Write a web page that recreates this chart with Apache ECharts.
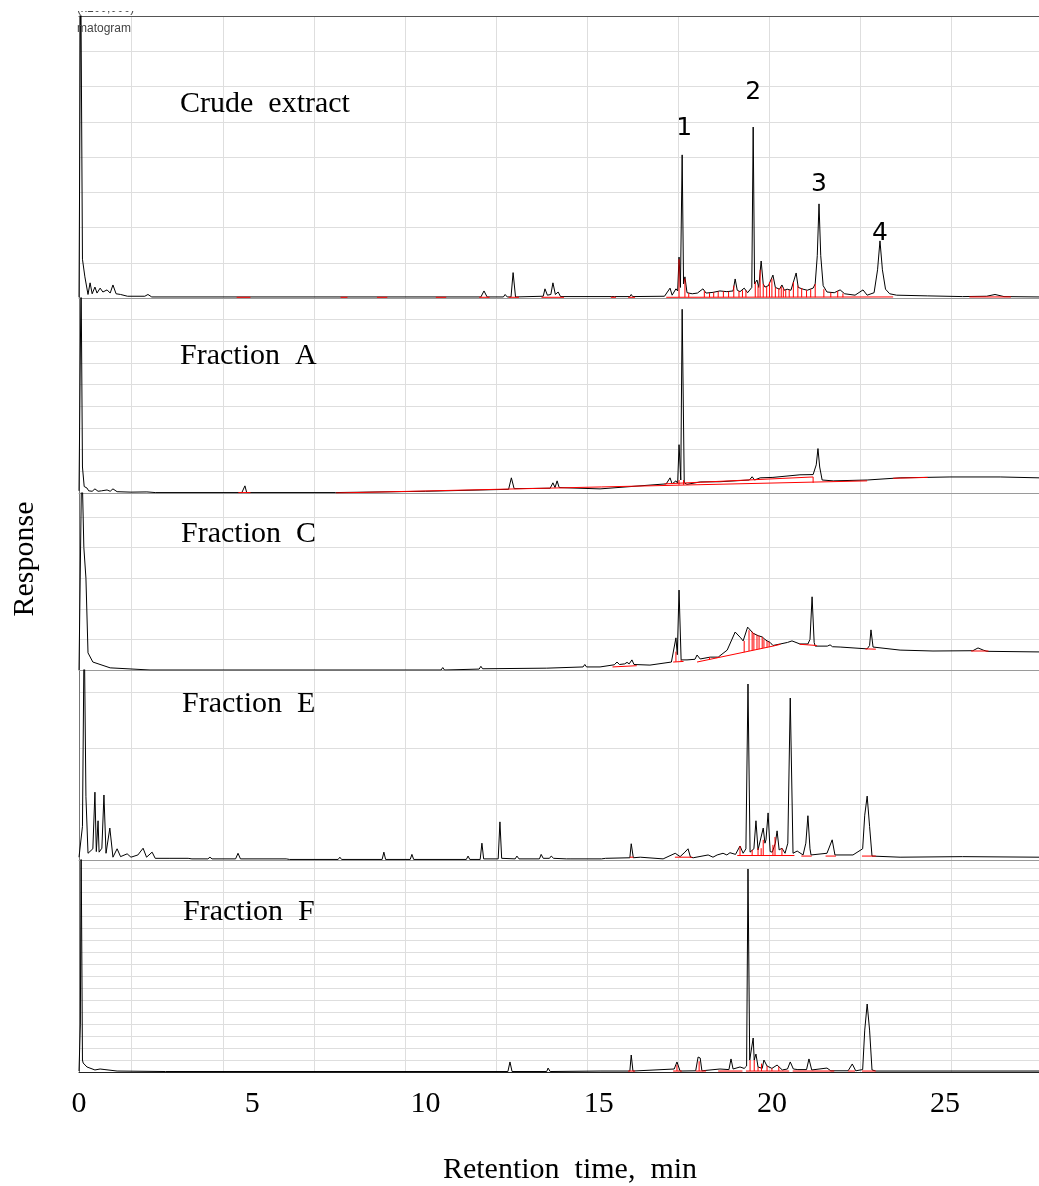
<!DOCTYPE html>
<html>
<head>
<meta charset="utf-8">
<script src="https://cdn.jsdelivr.net/npm/echarts@6/dist/echarts.min.js"></script>
<style>
  html, body { margin: 0; padding: 0; background: #fff; }
  #chart { width: 1039px; height: 1186px; }
</style>
</head>
<body>
<div id="chart"></div>
<script>
// retention time axis (min)
const timeTicks = [0, 5, 10, 15, 20, 25]
const gridTimes = [1.52, 4.15, 6.78, 9.41, 12.04, 14.67, 17.30, 19.93, 22.56, 25.19]
const panelNames = ['Crude  extract', 'Fraction  A', 'Fraction  C', 'Fraction  E', 'Fraction  F']

// numbered peaks in the crude extract
const peakLabels = ['1', '2', '3', '4']
const peakTimes = [17.41, 19.46, 21.36, 23.12]
const peakHeights = [4.06, 4.85, 2.67, 1.62]

// traces: [time, response]
const crude = [
  [0, 0.02], [0.05, 9.5], [0.1, 1.1], [0.17, 0.6], [0.26, 0.1], [0.32, 0.43], [0.38, 0.12], [0.46, 0.31],
  [0.52, 0.14], [0.61, 0.28], [0.69, 0.17], [0.81, 0.23], [0.9, 0.14], [0.98, 0.37], [1.07, 0.12], [1.2, 0.1],
  [1.4, 0.05], [1.9, 0.05], [1.99, 0.1], [2.1, 0.03], [11.6, 0.03], [11.69, 0.2], [11.78, 0.03], [12.25, 0.03],
  [12.3, 0.1], [12.36, 0.03], [12.47, 0.03], [12.53, 0.72], [12.6, 0.03], [13.4, 0.05], [13.45, 0.26], [13.52, 0.08],
  [13.62, 0.1], [13.68, 0.43], [13.75, 0.1], [13.83, 0.17], [13.9, 0.04], [15.38, 0.04], [15.42, 0.08], [15.46, 0.04],
  [15.9, 0.04], [15.94, 0.1], [15.98, 0.04], [16.9, 0.05], [17.06, 0.28], [17.12, 0.08], [17.23, 0.26], [17.28, 0.2],
  [17.32, 1.16], [17.36, 0.3], [17.41, 4.06], [17.45, 0.4], [17.49, 0.6], [17.55, 0.15], [17.7, 0.12], [17.85, 0.14],
  [18.01, 0.26], [18.1, 0.14], [18.3, 0.16], [18.5, 0.2], [18.7, 0.18], [18.88, 0.2], [18.94, 0.54], [19.0, 0.22],
  [19.08, 0.18], [19.2, 0.28], [19.3, 0.15], [19.42, 0.3], [19.46, 4.85], [19.5, 0.4], [19.57, 0.51], [19.62, 0.3],
  [19.69, 1.05], [19.75, 0.4], [19.8, 0.31], [19.9, 0.35], [20.03, 0.65], [20.1, 0.3], [20.15, 0.31], [20.22, 0.25],
  [20.29, 0.37], [20.36, 0.22], [20.44, 0.25], [20.55, 0.22], [20.7, 0.71], [20.76, 0.3], [20.81, 0.31], [20.9, 0.25],
  [21.02, 0.22], [21.19, 0.28], [21.25, 0.4], [21.31, 1.2], [21.36, 2.67], [21.41, 1.2], [21.48, 0.35], [21.59, 0.17],
  [21.8, 0.15], [21.97, 0.23], [22.1, 0.12], [22.4, 0.08], [22.63, 0.23], [22.75, 0.08], [22.95, 0.15], [23.05, 0.8],
  [23.12, 1.62], [23.19, 0.8], [23.28, 0.25], [23.4, 0.12], [23.6, 0.08], [24.5, 0.06], [25.5, 0.04], [26.2, 0.05],
  [26.44, 0.1], [26.7, 0.04], [27.71, 0.03]
]
const fracA = [
  [0, 0.1], [0.06, 10], [0.1, 1.2], [0.15, 0.3], [0.23, 0.23], [0.28, 0.1], [0.32, 0.14], [0.38, 0.08],
  [0.46, 0.19], [0.55, 0.08], [0.65, 0.1], [0.81, 0.14], [0.9, 0.08], [0.98, 0.19], [1.1, 0.06], [1.5, 0.04],
  [1.96, 0.05], [2.2, 0.02], [4.7, 0.02], [4.79, 0.33], [4.84, 0.02], [7.4, 0.02], [10, 0.08], [12.4, 0.17],
  [12.48, 0.7], [12.56, 0.2], [13.6, 0.22], [13.68, 0.47], [13.74, 0.25], [13.8, 0.56], [13.86, 0.25], [15.04, 0.19],
  [16.77, 0.4], [16.95, 0.42], [17.06, 0.7], [17.12, 0.42], [17.23, 0.56], [17.28, 0.45], [17.32, 2.23], [17.37, 0.6],
  [17.41, 8.48], [17.47, 0.47], [17.55, 0.4], [17.93, 0.51], [18.5, 0.52], [19.35, 0.6], [19.43, 0.75], [19.5, 0.6],
  [19.66, 0.7], [20.03, 0.72], [20.81, 0.84], [21.19, 0.85], [21.28, 1.3], [21.33, 2.05], [21.38, 1.2], [21.45, 0.6],
  [21.77, 0.56], [22.75, 0.6], [23.7, 0.7], [25.14, 0.74], [26.59, 0.74], [27.71, 0.7]
]
const fracC = [
  [0, 0], [0.08, 7], [0.14, 4], [0.2, 3.0], [0.26, 0.56], [0.4, 0.26], [0.9, 0.07], [2.05, 0], [10.45, 0],
  [10.5, 0.08], [10.55, 0], [11.55, 0.03], [11.6, 0.12], [11.65, 0.04], [13.5, 0.06], [14.55, 0.1], [14.6, 0.18],
  [14.65, 0.1], [15.04, 0.1], [15.45, 0.17], [15.53, 0.26], [15.6, 0.18], [15.75, 0.2], [15.82, 0.25], [15.88, 0.2],
  [15.96, 0.33], [16.02, 0.18], [16.48, 0.16], [17.1, 0.26], [17.23, 1.05], [17.27, 0.5], [17.32, 2.61], [17.38, 0.33],
  [17.55, 0.33], [17.78, 0.35], [17.84, 0.49], [17.93, 0.36], [18.22, 0.42], [18.45, 0.42], [18.71, 0.65], [18.94, 1.24],
  [19.1, 1.05], [19.17, 0.95], [19.3, 1.4], [19.46, 1.2], [19.6, 1.12], [19.72, 1.08], [19.8, 1.0], [19.86, 0.95],
  [19.95, 0.9], [20.03, 0.8], [20.24, 0.85], [20.45, 0.9], [20.58, 0.95], [20.81, 0.85], [21.04, 0.85], [21.1, 1.0],
  [21.16, 2.39], [21.22, 0.9], [21.25, 0.78], [21.6, 0.78], [21.68, 0.82], [21.75, 0.76], [21.97, 0.75], [22.75, 0.69],
  [22.82, 0.8], [22.86, 1.31], [22.92, 0.75], [22.95, 0.69], [23.7, 0.65], [24.65, 0.62], [25.8, 0.63], [25.95, 0.72],
  [26.1, 0.65], [26.21, 0.61], [27.71, 0.59]
]
const fracE = [
  [0, 0.05], [0.1, 0.6], [0.15, 4.2], [0.2, 1.13], [0.26, 0.12], [0.4, 0.2], [0.46, 1.21], [0.5, 0.15], [0.55, 0.7],
  [0.58, 0.14], [0.66, 0.21], [0.72, 1.16], [0.78, 0.12], [0.89, 0.57], [0.98, 0.05], [1.1, 0.2], [1.2, 0.06],
  [1.39, 0.11], [1.5, 0.05], [1.7, 0.09], [1.85, 0.21], [1.95, 0.05], [2.11, 0.14], [2.2, 0.03], [2.6, 0.03],
  [3.15, 0.03], [3.2, 0.06], [3.26, 0.02], [3.72, 0.02], [3.78, 0.05], [3.84, 0.02], [4.52, 0.02], [4.59, 0.12],
  [4.66, 0.02], [5.98, 0.02], [6.03, 0.04], [6.08, 0.01], [7.48, 0.01], [7.53, 0.05], [7.58, 0.01], [8.75, 0.01],
  [8.8, 0.14], [8.85, 0.01], [9.56, 0.01], [9.61, 0.1], [9.66, 0.01], [11.18, 0.01], [11.23, 0.07], [11.28, 0.01],
  [11.58, 0.01], [11.63, 0.3], [11.68, 0.02], [12.1, 0.02], [12.15, 0.68], [12.2, 0.03], [12.59, 0.02], [12.64, 0.07],
  [12.7, 0.02], [13.29, 0.02], [13.34, 0.1], [13.4, 0.03], [13.58, 0.03], [13.63, 0.07], [13.7, 0.03], [14.07, 0.02],
  [14.12, 0.05], [14.2, 0.02], [15.08, 0.02], [15.13, 0.05], [15.2, 0.03], [15.9, 0.04], [15.94, 0.29], [16.0, 0.04],
  [16.2, 0.05], [16.86, 0.02], [17.21, 0.12], [17.26, 0.14], [17.35, 0.06], [17.49, 0.14], [17.58, 0.2], [17.65, 0.05],
  [17.73, 0.04], [18.16, 0.09], [18.3, 0.05], [18.42, 0.09], [18.59, 0.12], [18.7, 0.09], [18.79, 0.13], [18.95, 0.1],
  [19.08, 0.25], [19.17, 0.12], [19.25, 0.2], [19.31, 3.14], [19.37, 0.14], [19.48, 0.2], [19.54, 0.7], [19.6, 0.18],
  [19.63, 0.18], [19.75, 0.57], [19.8, 0.3], [19.83, 0.36], [19.89, 0.84], [19.95, 0.15], [20.01, 0.14], [20.1, 0.3],
  [20.15, 0.52], [20.21, 0.18], [20.29, 0.21], [20.38, 0.12], [20.46, 0.3], [20.53, 2.89], [20.61, 0.12], [20.73, 0.16],
  [20.9, 0.09], [20.98, 0.3], [21.04, 0.79], [21.1, 0.2], [21.13, 0.09], [21.59, 0.12], [21.74, 0.36], [21.82, 0.09],
  [22.34, 0.09], [22.62, 0.2], [22.68, 0.8], [22.75, 1.14], [22.82, 0.6], [22.89, 0.07], [23.7, 0.05], [25.5, 0.06],
  [27.71, 0.05]
]
const fracF = [
  [0, 0.08], [0.04, 4], [0.06, 20], [0.1, 1.0], [0.12, 0.75], [0.23, 0.42], [0.46, 0.17], [0.61, 0.25], [0.75, 0.2],
  [1.1, 0.08], [2.5, 0.04], [12.38, 0.04], [12.44, 0.84], [12.5, 0.04], [13.5, 0.04], [13.54, 0.33], [13.6, 0.04],
  [15.04, 0.08], [15.9, 0.08], [15.94, 1.42], [15.99, 0.08], [17.18, 0.25], [17.26, 0.84], [17.35, 0.08], [17.8, 0.1],
  [17.87, 1.25], [17.93, 1.17], [17.98, 0.1], [18.5, 0.25], [18.76, 0.2], [18.82, 1.09], [18.88, 0.25], [19.08, 0.42],
  [19.2, 0.3], [19.27, 0.5], [19.31, 16.96], [19.36, 1.0], [19.41, 1.0], [19.46, 2.84], [19.49, 1.0], [19.54, 1.5],
  [19.6, 0.42], [19.72, 0.3], [19.77, 1.0], [19.86, 0.5], [20.0, 0.3], [20.15, 0.58], [20.3, 0.17], [20.45, 0.25],
  [20.53, 0.84], [20.62, 0.25], [20.75, 0.2], [21.0, 0.2], [21.07, 1.09], [21.15, 0.17], [21.59, 0.33], [21.7, 0.1],
  [22.2, 0.1], [22.32, 0.67], [22.42, 0.1], [22.62, 0.2], [22.68, 3.5], [22.75, 5.68], [22.82, 3.5], [22.89, 0.17],
  [23.0, 0.08], [27.71, 0.08]
]

// integration marks (red): baselines [t1, v1, t2, v2] and drop lines [t, from, to]
const crudeSegs = [[4.55, 0.02, 4.95, 0.02], [7.55, 0.02, 7.75, 0.02], [8.6, 0.02, 8.9, 0.02], [10.3, 0.02, 10.6, 0.02],
  [11.55, 0.02, 11.85, 0.02], [12.4, 0.02, 12.7, 0.02], [13.35, 0.02, 14.0, 0.02], [15.35, 0.02, 15.5, 0.02],
  [15.85, 0.02, 16.05, 0.02], [16.95, 0.02, 23.5, 0.03], [25.7, 0.03, 26.9, 0.03]]
const crudeDrops = [[17.32, 0.02, 1.1], [17.49, 0.02, 0.55], [17.6, 0.02, 0.14], [18.05, 0.02, 0.2], [18.2, 0.02, 0.14],
  [18.32, 0.02, 0.16], [18.45, 0.02, 0.18], [18.6, 0.02, 0.19], [18.75, 0.02, 0.18], [18.9, 0.02, 0.35],
  [19.05, 0.02, 0.2], [19.15, 0.02, 0.22], [19.25, 0.02, 0.22], [19.52, 0.02, 0.45], [19.6, 0.02, 0.35],
  [19.66, 0.02, 0.8], [19.75, 0.02, 0.4], [19.85, 0.02, 0.33], [19.93, 0.02, 0.45], [20.0, 0.02, 0.55],
  [20.1, 0.02, 0.3], [20.2, 0.02, 0.27], [20.27, 0.02, 0.33], [20.33, 0.02, 0.28], [20.4, 0.02, 0.23],
  [20.5, 0.02, 0.23], [20.62, 0.02, 0.45], [20.75, 0.02, 0.35], [20.86, 0.02, 0.28], [21.0, 0.02, 0.22],
  [21.12, 0.02, 0.25], [21.25, 0.02, 0.4], [21.5, 0.02, 0.25], [21.7, 0.02, 0.15], [21.9, 0.02, 0.2], [22.05, 0.02, 0.13]]
const aSegs = [[4.6, 0.02, 4.95, 0.02], [7.42, 0, 22.75, 0.56], [16.9, 0.42, 21.19, 0.74], [23.5, 0.68, 24.5, 0.72]]
const aDrops = [[17.32, 0.38, 0.6], [17.45, 0.38, 0.6], [21.19, 0.47, 0.74]]
const cSegs = [[15.4, 0.1, 16.1, 0.14], [17.15, 0.26, 17.45, 0.28], [17.84, 0.26, 20.03, 0.78], [20.03, 0.78, 20.25, 0.84],
  [20.8, 0.84, 21.3, 0.8], [22.7, 0.69, 23.0, 0.68], [25.75, 0.62, 26.25, 0.62]]
const cDrops = [[17.23, 0.27, 0.6], [17.38, 0.28, 0.33], [18.2, 0.35, 0.42], [18.4, 0.39, 0.42], [19.2, 0.58, 0.95],
  [19.34, 0.62, 1.3], [19.43, 0.64, 1.25], [19.48, 0.65, 1.2], [19.57, 0.67, 1.15], [19.63, 0.68, 1.12],
  [19.72, 0.71, 1.08], [19.77, 0.72, 1.0], [19.86, 0.74, 0.95], [19.92, 0.75, 0.92]]
const eSegs = [[15.9, 0.05, 16.0, 0.05], [17.2, 0.05, 17.7, 0.05], [19.0, 0.08, 20.65, 0.08], [20.85, 0.07, 21.15, 0.07],
  [21.55, 0.07, 21.85, 0.07], [22.6, 0.07, 23.0, 0.07]]
const eDrops = [[19.08, 0.08, 0.25], [19.43, 0.08, 0.18], [19.6, 0.08, 0.21], [19.69, 0.08, 0.21], [19.75, 0.08, 0.36],
  [20.03, 0.08, 0.27], [20.09, 0.08, 0.41], [20.29, 0.08, 0.21]]
const fSegs = [[15.85, 0.08, 16.05, 0.08], [17.15, 0.08, 17.4, 0.08], [17.8, 0.08, 18.1, 0.08], [18.45, 0.08, 19.15, 0.08],
  [19.25, 0.08, 20.5, 0.08], [20.6, 0.08, 21.8, 0.08], [22.2, 0.08, 22.4, 0.08], [22.6, 0.08, 23.0, 0.08]]
const fDrops = [[17.26, 0.08, 0.6], [17.9, 0.08, 0.9], [19.37, 0.08, 1.0], [19.49, 0.08, 1.0], [19.6, 0.08, 0.42],
  [19.7, 0.08, 0.7], [19.86, 0.08, 0.5], [20.0, 0.08, 0.3], [20.2, 0.08, 0.45]]

const serif = '"Liberation Serif", "Times New Roman", serif'
const gridColor = '#dedede'

// panel layout, top to bottom
const panels = [
  {top: 16, height: 282, max: 8, trace: crude, segs: crudeSegs, drops: crudeDrops, label: [180, 104]},
  {top: 298, height: 195, max: 9, trace: fracA, segs: aSegs, drops: aDrops, label: [180, 356]},
  {top: 493, height: 177, max: 5.78, trace: fracC, segs: cSegs, drops: cDrops, label: [181, 534]},
  {top: 670, height: 190, max: 3.39, trace: fracE, segs: eSegs, drops: eDrops, label: [182, 704]},
  {top: 860, height: 212, max: 17.71, trace: fracF, segs: fSegs, drops: fDrops, label: [183, 912]}
]

function redData (segs, drops) {
  const out = []
  segs.forEach(s => { out.push([s[0], s[1]], [s[2], s[3]], [s[2], '-']) })
  drops.forEach(d => { out.push([d[0], d[1]], [d[0], d[2]], [d[0], '-']) })
  return out
}

const last = panels.length - 1
const grid = panels.map(p => ({left: 79, right: 0, top: p.top, height: p.height}))

const xAxis = panels.map((p, i) => ({
  type: 'value',
  gridIndex: i,
  min: 0,
  max: 27.71,
  axisLine: {show: true, lineStyle: {color: i === last ? '#222' : '#9a9a9a', width: 1}},
  axisTick: {show: false, customValues: gridTimes},
  splitLine: {show: true, lineStyle: {color: gridColor, width: 1}},
  axisLabel: i === last
    ? {show: true, customValues: timeTicks, fontFamily: serif, fontSize: 30, color: '#000', margin: 17}
    : {show: false}
}))
// top frame of the first panel
xAxis.push({
  type: 'value', gridIndex: 0, position: 'top', min: 0, max: 27.71,
  axisLine: {show: true, lineStyle: {color: '#555', width: 1}},
  axisTick: {show: false}, axisLabel: {show: false}, splitLine: {show: false}
})

const yAxis = panels.map((p, i) => ({
  type: 'value',
  gridIndex: i,
  min: 0,
  max: p.max,
  interval: 1,
  axisLine: {show: true, lineStyle: {color: '#777', width: 1}},
  axisTick: {show: false},
  axisLabel: {show: false},
  splitLine: {show: true, lineStyle: {color: gridColor, width: 1}}
}))

const series = []
panels.forEach((p, i) => {
  const trace = {
    type: 'line',
    xAxisIndex: i,
    yAxisIndex: i,
    data: p.trace,
    showSymbol: false,
    symbol: 'none',
    lineStyle: {color: '#000', width: 1},
    z: 3
  }
  if (i === 0) {
    trace.markPoint = {
      symbol: 'circle',
      symbolSize: 0,
      label: {show: true, position: 'top', formatter: '{b}', fontFamily: '"DejaVu Sans", sans-serif', fontSize: 25, color: '#000'},
      data: peakLabels.map((n, k) => ({
        name: n,
        coord: [peakTimes[k], peakHeights[k]],
        label: {distance: [14, 22, 7, -5][k], offset: [[2, 0], [0, 0], [0, 0], [0, 0]][k]}
      }))
    }
  }
  series.push(trace)
  series.push({
    type: 'line',
    xAxisIndex: i,
    yAxisIndex: i,
    data: redData(p.segs, p.drops),
    showSymbol: false,
    symbol: 'none',
    connectNulls: false,
    lineStyle: {color: '#ff0000', width: 1},
    z: 4
  })
})

const graphic = panels.map((p, i) => ({
  type: 'text',
  left: p.label[0],
  top: p.label[1] - 15,
  z: 100,
  style: {text: panelNames[i], font: '30px ' + serif, fill: '#000'}
}))
graphic.push(
  {type: 'text', x: 25, y: 559, rotation: Math.PI / 2, z: 100,
    style: {text: 'Response', font: '30px ' + serif, fill: '#000', align: 'center', verticalAlign: 'middle'}},
  {type: 'text', x: 570, y: 1170, z: 100,
    style: {text: 'Retention  time,  min', font: '30px ' + serif, fill: '#000', align: 'center', verticalAlign: 'middle'}},
  {type: 'text', x: 77, y: 3, z: 100, style: {text: '(x100,000)', font: '12px "Liberation Sans", sans-serif', fill: '#444'}},
  {type: 'rect', shape: {x: 70, y: 0, width: 100, height: 11}, style: {fill: '#fff'}, z: 101},
  {type: 'text', x: 77, y: 23, z: 102, style: {text: 'matogram', font: '12px "Liberation Sans", sans-serif', fill: '#444'}}
)

const chart = echarts.init(document.getElementById('chart'))
chart.setOption({
  backgroundColor: '#fff',
  animation: false,
  grid,
  xAxis,
  yAxis,
  series,
  graphic
})
</script>
</body>
</html>
